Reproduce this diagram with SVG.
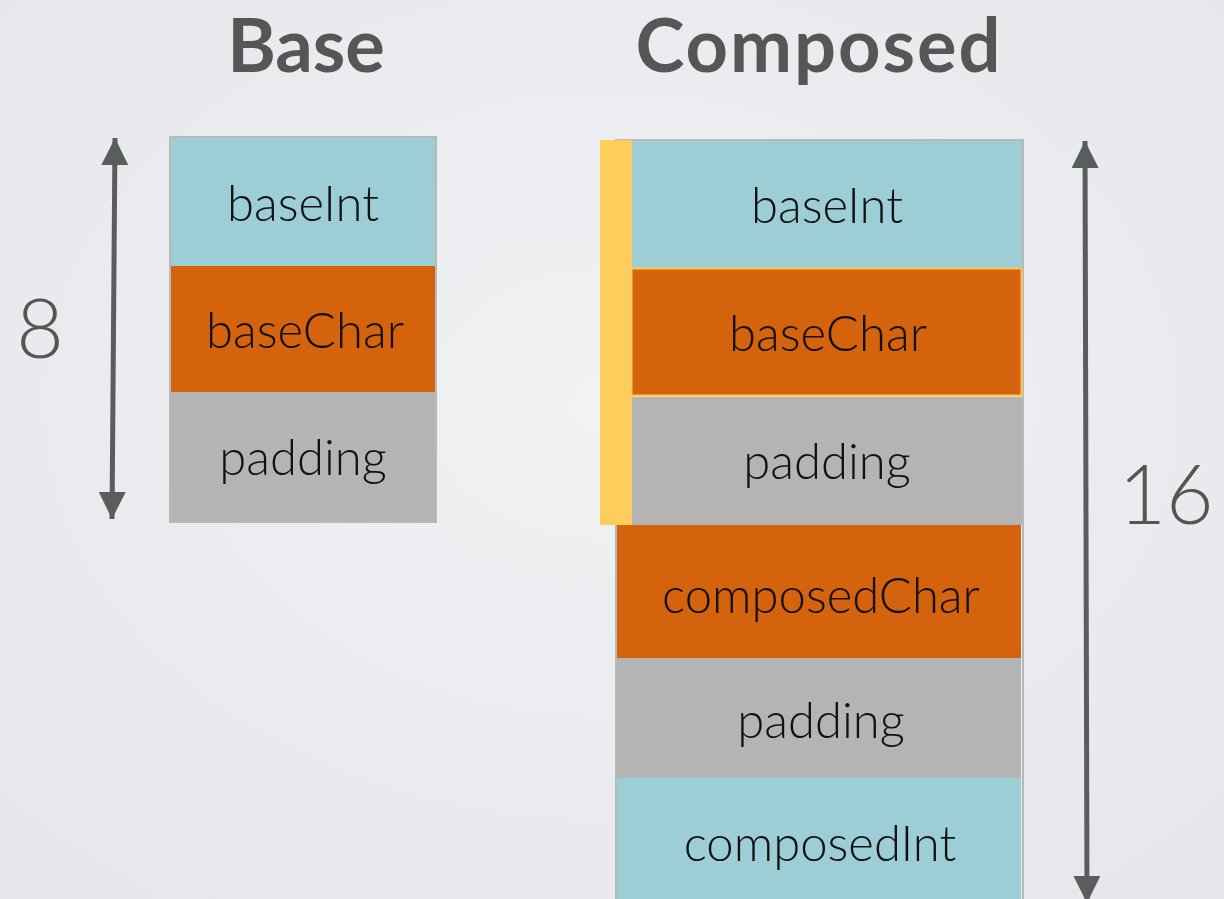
<svg xmlns="http://www.w3.org/2000/svg" width="1224" height="899" viewBox="0 0 1224 899">
<defs>
<radialGradient id="bg" cx="50%" cy="45%" r="75%">
<stop offset="0" stop-color="#f1f2f4"/>
<stop offset="1" stop-color="#e4e6ea"/>
</radialGradient>
<marker id="ah" viewBox="0 0 10 10" refX="10" refY="5" markerWidth="5.4" markerHeight="5.4" markerUnits="strokeWidth" orient="auto-start-reverse">
<path d="M0,0 L10,5 L0,10 z" fill="#5a5d5d"/>
</marker>
<style>
.title{font-family:"Lato","Open Sans",sans-serif;font-weight:700;fill:#565656;text-anchor:middle}
.lbl{font-family:"Lato","Open Sans",sans-serif;font-weight:300;font-size:49px;fill:#111;text-anchor:middle}
.num{font-family:"Lato","Open Sans",sans-serif;font-weight:300;font-size:82px;fill:#555;text-anchor:middle}
.int{fill:#9dced5}
.chr{fill:#d5620d}
.pad{fill:#b4b4b4}
.frame{fill:none;stroke:#b8b8b8;stroke-width:2}
.conn{stroke:#5a5d5d;stroke-width:5;fill:none}
</style>
</defs>
<rect width="1224" height="899" fill="url(#bg)"/>
<text class="title" x="306" y="72" font-size="74">Base</text>
<text class="title" x="819" y="72" font-size="74" letter-spacing="2">Composed</text>

<g id="base">
<rect class="frame" x="170" y="137" width="266" height="385"/>
<g id="base-baseInt"><rect class="int" x="171" y="138" width="264" height="128"/><text class="lbl" x="303" y="221">baseInt</text></g>
<g id="base-baseChar"><rect class="chr" x="171" y="266" width="264" height="126"/><text class="lbl" x="305" y="348">baseChar</text></g>
<g id="base-padding"><rect class="pad" x="171" y="392" width="264" height="129"/><text class="lbl" x="303" y="475">padding</text></g>
</g>

<g id="composed">
<rect class="frame" x="616" y="140" width="407" height="770"/>
<g id="c-baseInt"><rect class="int" x="631" y="141" width="391" height="127"/><text class="lbl" x="827" y="223">baseInt</text></g>
<g id="c-baseChar"><rect class="chr" x="631.5" y="268.5" width="390" height="127" stroke="#fcc74e" stroke-width="2"/><text class="lbl" x="828" y="351">baseChar</text></g>
<g id="c-padding1"><rect class="pad" x="631" y="397" width="391" height="128"/><text class="lbl" x="827" y="479">padding</text></g>
<g id="c-composedChar"><rect class="chr" x="617" y="525" width="404" height="133"/><text class="lbl" x="821" y="613">composedChar</text></g>
<g id="c-padding2"><rect class="pad" x="617" y="658" width="404" height="120"/><text class="lbl" x="821" y="738">padding</text></g>
<g id="c-composedInt"><rect class="int" x="617" y="778" width="404" height="122"/><text class="lbl" x="820" y="861">composedInt</text></g>
<g id="c-base-marker"><rect x="600" y="140" width="32" height="385" fill="#fecd5b"/></g>
</g>

<g id="connectors">
<line class="conn" x1="115" y1="138" x2="112" y2="519" marker-start="url(#ah)" marker-end="url(#ah)"/>
<line class="conn" x1="1085" y1="141" x2="1087" y2="903" marker-start="url(#ah)" marker-end="url(#ah)"/>
</g>

<g id="labels">
<text class="num" x="40" y="358">8</text>
<text class="num" x="1166" y="524">16</text>
</g>
</svg>
